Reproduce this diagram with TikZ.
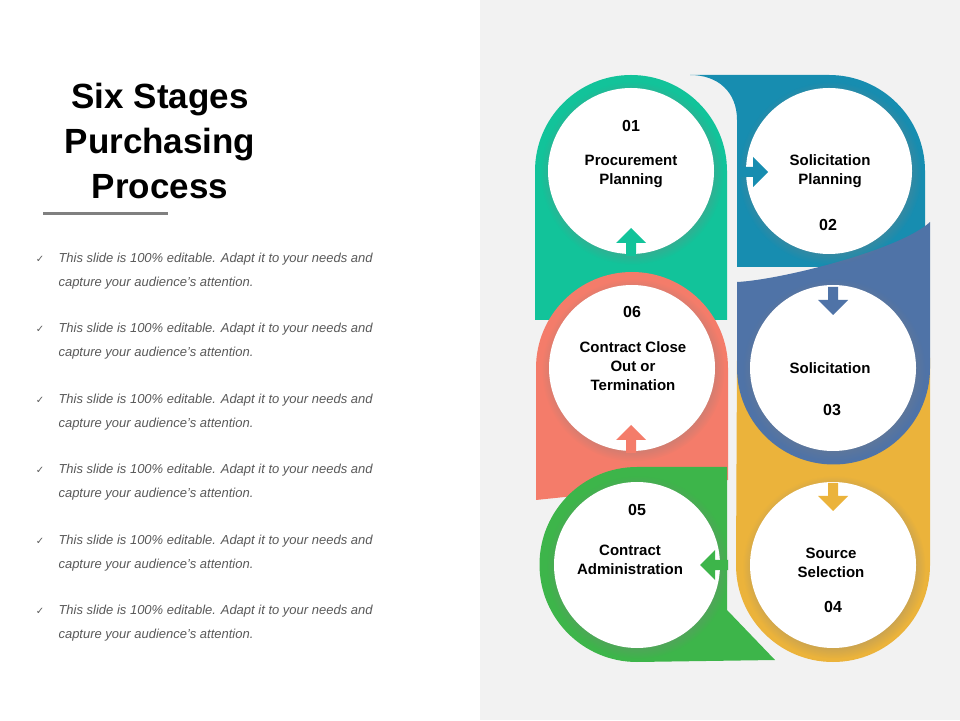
\documentclass[tikz,border=0pt]{standalone}
\usepackage{fontspec}
\setmainfont{Liberation Sans}
\newfontfamily\dejavu{DejaVu Sans}
\usetikzlibrary{shadows}
\definecolor{cA}{HTML}{12C39A}
\definecolor{cB}{HTML}{178DB0}
\definecolor{cC}{HTML}{4F73A7}
\definecolor{cD}{HTML}{EBB33B}
\definecolor{cE}{HTML}{3DB54A}
\definecolor{cF}{HTML}{F47C6A}
\definecolor{bg}{HTML}{F2F2F2}
\definecolor{txt}{HTML}{595959}
\tikzset{
 circ/.style={circle,fill=white,minimum size=166pt,inner sep=0pt,circular drop shadow={shadow xshift=1pt,shadow yshift=-2pt,opacity=0.35}},
 lab/.style={font=\bfseries\fontsize{15}{19}\selectfont,align=center},
 num/.style={font=\bfseries\fontsize{16}{19}\selectfont},
 barrow/.pic={\fill (-5,0) -- (5,0) -- (5,13) -- (15,13) -- (0,28) -- (-15,13) -- (-5,13) -- cycle;},
 bul/.style={anchor=west,font=\itshape\fontsize{13}{24}\selectfont,text=txt,align=left},
 chk/.style={font=\dejavu\fontsize{10}{10}\selectfont,text=txt}
}
\begin{document}
\begin{tikzpicture}[x=1pt,y=1pt]
\useasboundingbox (0,0) rectangle (960,720);
\fill[white] (0,0) rectangle (480,720);
\fill[bg] (480,0) rectangle (960,720);
% title
\node[font=\bfseries\fontsize{35}{45}\selectfont,align=center] (title) at (160,579) {Six Stages\\Purchasing\\Process};
\draw[line width=3pt,gray] (43,506) -- (168,506);
\foreach \i in {0,...,5}{
 \node[chk] (c\i) at (40,{461-70.5*\i}) {✓};
 \node[bul] (b\i) at (55,{449-70.5*\i}) {This slide is 100\% editable. Adapt it to your needs and\\capture your audience's attention.};
}
% shapes left
\fill[cA] (535,400) -- (535,549) arc[start angle=180,end angle=0,radius=96] -- (727,400) -- cycle;
\fill[cF] (536,220) -- (536,352) arc[start angle=180,end angle=0,radius=96] -- (728,240) -- cycle;
\fill[cE] (637,253) -- (727,253) -- (727,110) -- (775,60) -- (637,58) arc[start angle=270,end angle=90,radius=97.5];
% shapes right
\fill[cB] (690,645) -- (829,645) arc[start angle=90,end angle=0,radius=96] -- (925,453) -- (737,453) -- (737,600) .. controls (737,628) and (718,645) .. (690,645);
\fill[cD] (737,362) -- (930,362) -- (930,155) arc[start angle=0,end angle=-180,radius=97] -- cycle;
\fill[cC] (737,438) -- (737,352) arc[start angle=180,end angle=360,radius=96.5] -- (930,498) .. controls (900,470) and (780,440) .. (737,438);
% circles
\node[circ] (n1) at (631,549) {};
\node[circ] (n2) at (829,549) {};
\node[circ] (n6) at (632,352) {};
\node[circ] (n3) at (833,352) {};
\node[circ] (n5) at (637,155) {};
\node[circ] (n4) at (833,155) {};
% arrows
\pic[fill=cA] at (631,464) {barrow};
\pic[fill=cB,rotate=-90] at (740,548) {barrow};
\pic[fill=cC,rotate=180] at (833,433) {barrow};
\pic[fill=cD,rotate=180] at (833,237) {barrow};
\pic[fill=cE,rotate=90] at (728,155) {barrow};
\pic[fill=cF] at (631,267) {barrow};
% texts
\node[num] (t1) at (631,594) {01};
\node[lab] (l1) at (631,549) {Procurement\\Planning};
\node[lab] (l2) at (830,549) {Solicitation\\Planning};
\node[num] (t2) at (828,495) {02};
\node[num] (t6) at (632,408) {06};
\node[lab] (l6) at (633,354) {Contract Close\\Out or\\Termination};
\node[lab] (l3) at (830,352) {Solicitation};
\node[num] (t3) at (832,310) {03};
\node[num] (t5) at (637,210) {05};
\node[lab] (l5) at (630,160) {Contract\\Administration};
\node[lab] (l4) at (831,157) {Source\\Selection};
\node[num] (t4) at (833,113) {04};
\end{tikzpicture}
\end{document}
